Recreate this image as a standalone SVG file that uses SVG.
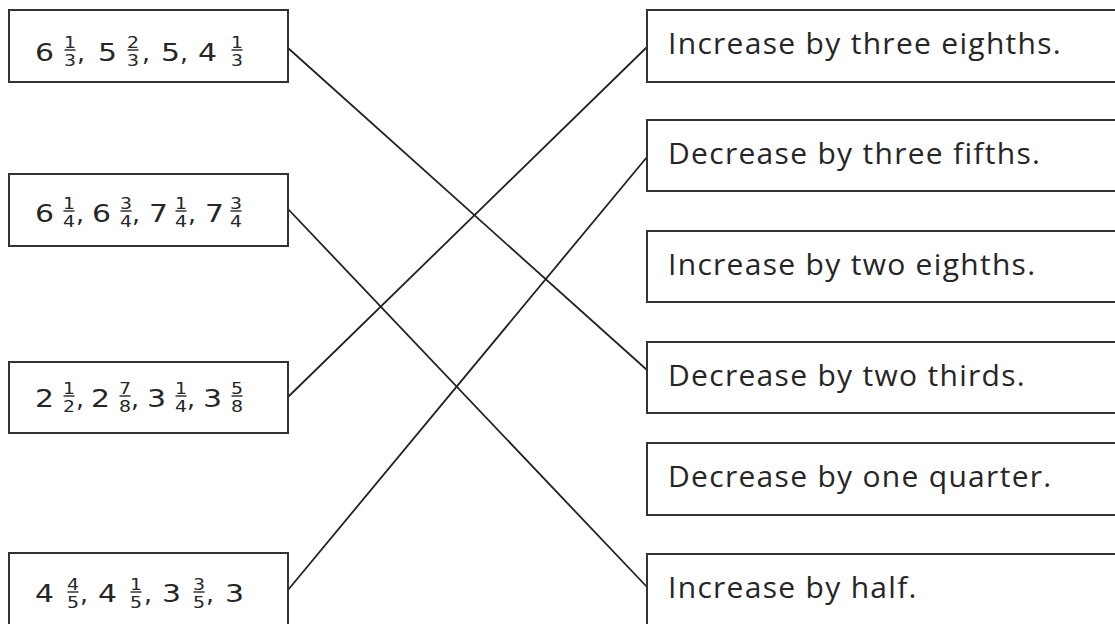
<svg xmlns="http://www.w3.org/2000/svg" width="1115" height="624" viewBox="0 0 1115 624">
  <style>
    .box { fill: #ffffff; stroke: #333333; stroke-width: 2; }
    .num { font-family: "DejaVu Sans", "Open Sans", sans-serif; font-size: 25px; fill: #262626; }
    .fr { font-family: "DejaVu Sans", "Open Sans", sans-serif; font-size: 16.5px; fill: #262626; text-anchor: middle; }
    .bar { stroke: #262626; stroke-width: 1.4; }
    .lbl { font-family: "Open Sans", "Noto Sans", sans-serif; font-size: 30px; letter-spacing: 1.3px; fill: #262626; }
    .link { stroke: #222222; stroke-width: 1.8; fill: none; }
  </style>
  <rect width="1115" height="624" fill="#ffffff"/>

  <!-- connectors -->
  <g id="connectors">
    <line class="link" x1="288" y1="48" x2="647" y2="370"/>
    <line class="link" x1="288" y1="209" x2="647" y2="587"/>
    <line class="link" x1="288" y1="397" x2="647" y2="47"/>
    <line class="link" x1="288" y1="590" x2="647" y2="157"/>
  </g>

  <!-- left column: number sequences; whole numbers are widened to the rounded school-font look -->
  <g id="seq1">
    <rect class="box" x="9" y="10" width="279" height="72"/>
    <text class="num" x="35" y="61" textLength="19" lengthAdjust="spacingAndGlyphs">6</text>
    <text class="fr" x="70" y="47.5" textLength="12" lengthAdjust="spacingAndGlyphs">1</text><line class="bar" x1="64.5" y1="50" x2="75.5" y2="50"/><text class="fr" x="70" y="65.5" textLength="12" lengthAdjust="spacingAndGlyphs">3</text>
    <text class="num" x="77" y="61">,</text>
    <text class="num" x="98" y="61" textLength="19" lengthAdjust="spacingAndGlyphs">5</text>
    <text class="fr" x="133" y="47.5" textLength="12" lengthAdjust="spacingAndGlyphs">2</text><line class="bar" x1="127.5" y1="50" x2="138.5" y2="50"/><text class="fr" x="133" y="65.5" textLength="12" lengthAdjust="spacingAndGlyphs">3</text>
    <text class="num" x="142" y="61">,</text>
    <text class="num" x="161" y="61" textLength="19" lengthAdjust="spacingAndGlyphs">5</text>
    <text class="num" x="180" y="61">,</text>
    <text class="num" x="198" y="61" textLength="19" lengthAdjust="spacingAndGlyphs">4</text>
    <text class="fr" x="237" y="47.5" textLength="12" lengthAdjust="spacingAndGlyphs">1</text><line class="bar" x1="231.5" y1="50" x2="242.5" y2="50"/><text class="fr" x="237" y="65.5" textLength="12" lengthAdjust="spacingAndGlyphs">3</text>
  </g>

  <g id="seq2">
    <rect class="box" x="9" y="174" width="279" height="72"/>
    <text class="num" x="35" y="221.5" textLength="19" lengthAdjust="spacingAndGlyphs">6</text>
    <text class="fr" x="69" y="208.5" textLength="12" lengthAdjust="spacingAndGlyphs">1</text><line class="bar" x1="63.5" y1="211" x2="74.5" y2="211"/><text class="fr" x="69" y="226.5" textLength="12" lengthAdjust="spacingAndGlyphs">4</text>
    <text class="num" x="76" y="221.5">,</text>
    <text class="num" x="92" y="221.5" textLength="19" lengthAdjust="spacingAndGlyphs">6</text>
    <text class="fr" x="126" y="208.5" textLength="12" lengthAdjust="spacingAndGlyphs">3</text><line class="bar" x1="120.5" y1="211" x2="131.5" y2="211"/><text class="fr" x="126" y="226.5" textLength="12" lengthAdjust="spacingAndGlyphs">4</text>
    <text class="num" x="132" y="221.5">,</text>
    <text class="num" x="149" y="221.5" textLength="19" lengthAdjust="spacingAndGlyphs">7</text>
    <text class="fr" x="181" y="208.5" textLength="12" lengthAdjust="spacingAndGlyphs">1</text><line class="bar" x1="175.5" y1="211" x2="186.5" y2="211"/><text class="fr" x="181" y="226.5" textLength="12" lengthAdjust="spacingAndGlyphs">4</text>
    <text class="num" x="188" y="221.5">,</text>
    <text class="num" x="205" y="221.5" textLength="19" lengthAdjust="spacingAndGlyphs">7</text>
    <text class="fr" x="236" y="208.5" textLength="12" lengthAdjust="spacingAndGlyphs">3</text><line class="bar" x1="230.5" y1="211" x2="241.5" y2="211"/><text class="fr" x="236" y="226.5" textLength="12" lengthAdjust="spacingAndGlyphs">4</text>
  </g>

  <g id="seq3">
    <rect class="box" x="9" y="362" width="279" height="71"/>
    <text class="num" x="35" y="407" textLength="19" lengthAdjust="spacingAndGlyphs">2</text>
    <text class="fr" x="69" y="393.5" textLength="12" lengthAdjust="spacingAndGlyphs">1</text><line class="bar" x1="63.5" y1="396" x2="74.5" y2="396"/><text class="fr" x="69" y="411.5" textLength="12" lengthAdjust="spacingAndGlyphs">2</text>
    <text class="num" x="76" y="407">,</text>
    <text class="num" x="91" y="407" textLength="19" lengthAdjust="spacingAndGlyphs">2</text>
    <text class="fr" x="125" y="393.5" textLength="12" lengthAdjust="spacingAndGlyphs">7</text><line class="bar" x1="119.5" y1="396" x2="130.5" y2="396"/><text class="fr" x="125" y="411.5" textLength="12" lengthAdjust="spacingAndGlyphs">8</text>
    <text class="num" x="131" y="407">,</text>
    <text class="num" x="147" y="407" textLength="19" lengthAdjust="spacingAndGlyphs">3</text>
    <text class="fr" x="181" y="393.5" textLength="12" lengthAdjust="spacingAndGlyphs">1</text><line class="bar" x1="175.5" y1="396" x2="186.5" y2="396"/><text class="fr" x="181" y="411.5" textLength="12" lengthAdjust="spacingAndGlyphs">4</text>
    <text class="num" x="187" y="407">,</text>
    <text class="num" x="203" y="407" textLength="19" lengthAdjust="spacingAndGlyphs">3</text>
    <text class="fr" x="237" y="393.5" textLength="12" lengthAdjust="spacingAndGlyphs">5</text><line class="bar" x1="231.5" y1="396" x2="242.5" y2="396"/><text class="fr" x="237" y="411.5" textLength="12" lengthAdjust="spacingAndGlyphs">8</text>
  </g>

  <g id="seq4">
    <rect class="box" x="9" y="553" width="279" height="80"/>
    <text class="num" x="35" y="602" textLength="19" lengthAdjust="spacingAndGlyphs">4</text>
    <text class="fr" x="73" y="589.5" textLength="12" lengthAdjust="spacingAndGlyphs">4</text><line class="bar" x1="67.5" y1="592" x2="78.5" y2="592"/><text class="fr" x="73" y="607.5" textLength="12" lengthAdjust="spacingAndGlyphs">5</text>
    <text class="num" x="80" y="602">,</text>
    <text class="num" x="98" y="602" textLength="19" lengthAdjust="spacingAndGlyphs">4</text>
    <text class="fr" x="136" y="589.5" textLength="12" lengthAdjust="spacingAndGlyphs">1</text><line class="bar" x1="130.5" y1="592" x2="141.5" y2="592"/><text class="fr" x="136" y="607.5" textLength="12" lengthAdjust="spacingAndGlyphs">5</text>
    <text class="num" x="144" y="602">,</text>
    <text class="num" x="162" y="602" textLength="19" lengthAdjust="spacingAndGlyphs">3</text>
    <text class="fr" x="199" y="589.5" textLength="12" lengthAdjust="spacingAndGlyphs">3</text><line class="bar" x1="193.5" y1="592" x2="204.5" y2="592"/><text class="fr" x="199" y="607.5" textLength="12" lengthAdjust="spacingAndGlyphs">5</text>
    <text class="num" x="206" y="602">,</text>
    <text class="num" x="225" y="602" textLength="19" lengthAdjust="spacingAndGlyphs">3</text>
  </g>

  <!-- right column: rules -->
  <g id="rule1">
    <rect class="box" x="647" y="10" width="480" height="72"/>
    <text class="lbl" x="668" y="53.5">Increase by three eighths.</text>
  </g>
  <g id="rule2">
    <rect class="box" x="647" y="120" width="480" height="71"/>
    <text class="lbl" x="668" y="163.5">Decrease by three fifths.</text>
  </g>
  <g id="rule3">
    <rect class="box" x="647" y="231" width="480" height="71"/>
    <text class="lbl" x="668" y="274.5">Increase by two eighths.</text>
  </g>
  <g id="rule4">
    <rect class="box" x="647" y="342" width="480" height="71"/>
    <text class="lbl" x="668" y="385.5">Decrease by two thirds.</text>
  </g>
  <g id="rule5">
    <rect class="box" x="647" y="443" width="480" height="72"/>
    <text class="lbl" x="668" y="486.5">Decrease by one quarter.</text>
  </g>
  <g id="rule6">
    <rect class="box" x="647" y="554" width="480" height="80"/>
    <text class="lbl" x="668" y="597.5">Increase by half.</text>
  </g>
</svg>
